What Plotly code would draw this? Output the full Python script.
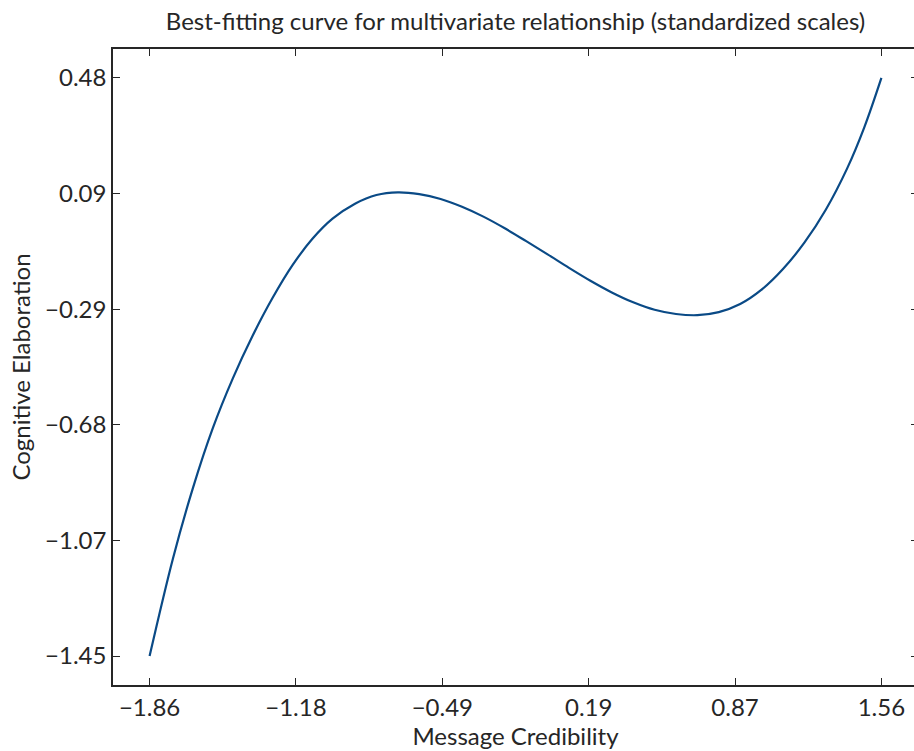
import plotly.graph_objects as go

# Values (standardized scales)
credibility = [-1.86, -1.751, -1.658, -1.565, -1.471, -1.378, -1.285, -1.192, -1.10,
               -1.005, -0.90, -0.80, -0.70, -0.60, -0.50, -0.40, -0.30, -0.20, -0.10,
               0.0, 0.10, 0.20, 0.30, 0.40, 0.50, 0.60, 0.70, 0.80, 0.90, 1.0, 1.1,
               1.2, 1.3, 1.4, 1.48, 1.56]
elaboration = [-1.45, -1.125, -0.890, -0.690, -0.523, -0.380, -0.254, -0.145, -0.058,
               0.010, 0.060, 0.089, 0.098, 0.092, 0.076, 0.050, 0.017, -0.022, -0.065,
               -0.109, -0.154, -0.197, -0.236, -0.269, -0.294, -0.308, -0.312, -0.302, -0.275, -0.227, -0.158,
               -0.070, 0.040, 0.178, 0.315, 0.48]

x_tick_vals = [-1.86, -1.176, -0.492, 0.192, 0.876, 1.56]
x_tick_text = ["\u22121.86", "\u22121.18", "\u22120.49", "0.19", "0.87", "1.56"]
y_tick_vals = [-1.45, -1.064, -0.678, -0.292, 0.094, 0.48]
y_tick_text = ["\u22121.45", "\u22121.07", "\u22120.68", "\u22120.29", "0.09", "0.48"]

title_text = "Best-fitting curve for multivariate relationship (standardized scales)"
x_title = "Message Credibility"
y_title = "Cognitive Elaboration"

FONT = "Lato"
TXT = "#262626"
AX = "#262626"

fig = go.Figure()
fig.add_trace(go.Scatter(
    x=credibility, y=elaboration, mode="lines",
    line=dict(color="#0a4a86", width=2.2, shape="spline", smoothing=1.0),
    hoverinfo="skip", showlegend=False,
))

fig.update_layout(
    width=921, height=751,
    margin=dict(l=113, r=1, t=49, b=66),
    paper_bgcolor="white", plot_bgcolor="white",
    font=dict(family=FONT, color=TXT, size=24),
    title=dict(text=title_text, x=0.5, xref="paper", y=0.971, yref="container",
               xanchor="center", yanchor="middle", font=dict(family=FONT, size=24, color=TXT)),
    xaxis=dict(
        range=[-2.031, 1.731], tickvals=x_tick_vals, ticktext=x_tick_text,
        ticks="inside", ticklen=7, tickwidth=1.3, tickcolor=AX,
        showline=True, linecolor=AX, linewidth=1.5, mirror="ticks",
        showgrid=False, zeroline=False,
        tickfont=dict(family=FONT, size=24, color=TXT),
        title=dict(text=x_title, font=dict(family=FONT, size=24, color=TXT), standoff=4),
    ),
    yaxis=dict(
        range=[-1.5465, 0.5765], tickvals=y_tick_vals, ticktext=y_tick_text,
        ticks="inside", ticklen=7, tickwidth=1.3, tickcolor=AX,
        showline=True, linecolor=AX, linewidth=1.5, mirror="ticks",
        showgrid=False, zeroline=False,
        tickfont=dict(family=FONT, size=24, color=TXT),
        title=dict(text=y_title, font=dict(family=FONT, size=24, color=TXT), standoff=8),
    ),
)

fig.write_html("out.html", config={"displayModeBar": False},
               post_script="document.body.style.margin='0';document.body.style.overflow='hidden';")
